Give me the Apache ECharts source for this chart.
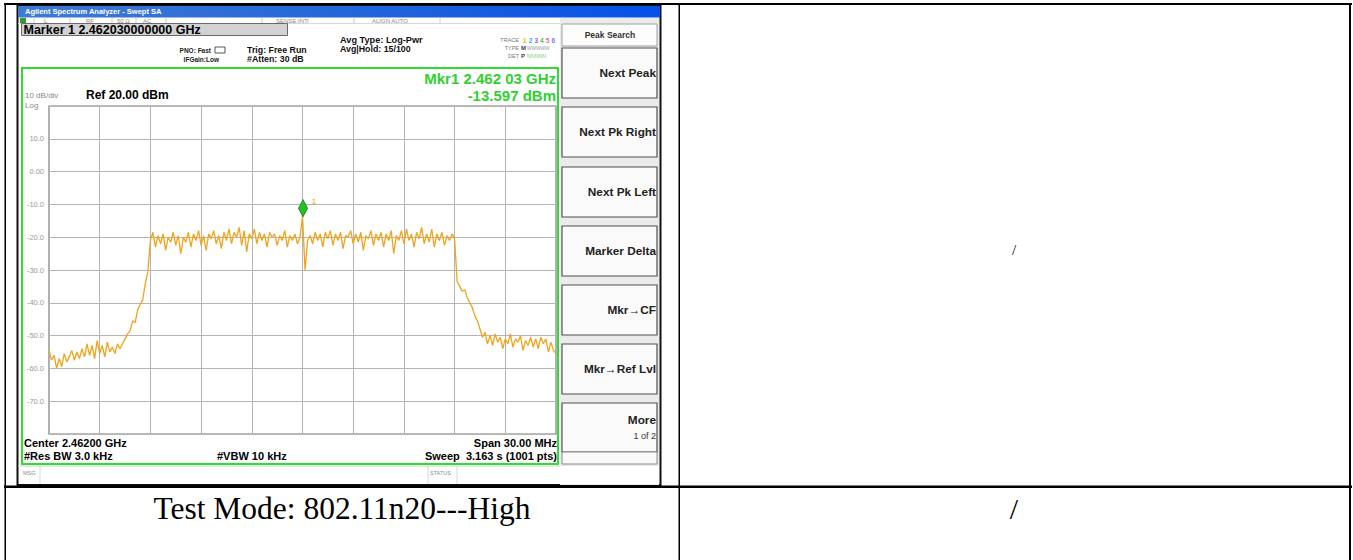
<!DOCTYPE html>
<html><head><meta charset="utf-8">
<script src="https://cdn.jsdelivr.net/npm/echarts/dist/echarts.min.js"></script>
<style>html,body{margin:0;padding:0;background:#fff;}#c{width:1353px;height:560px;}</style>
</head><body><div id="c"></div>
<script>
// ---- data ----
const centerMHz = 2462.0;
const spanMHz = 30.0;
const yTicks = [20, 10, 0, -10, -20, -30, -40, -50, -60, -70, -80];
// trace, dBm, left noise floor + rising skirt (first 40 points)
const traceLeft = [
  -54.5, -57.5, -56, -60, -57, -59.5, -55.5, -58, -56.5, -54.5,
  -57.5, -55, -57, -54, -56.5, -52.5, -56, -53, -57, -51.5,
  -55.5, -53, -56.5, -52, -55, -53.5, -55.5, -52.5, -54, -52.5,
  -51, -49.5, -48.5, -45.5, -46, -42, -40.5, -39, -34, -30.5
];
// occupied band (121 points)
const traceBand = [
  -21, -18.5, -23, -19.5, -22, -19, -24, -20, -21.5, -18.5,
  -22.5, -19.5, -25, -20, -21.5, -18.5, -23, -19, -21, -18,
  -22.5, -19.5, -24, -19, -20.5, -18, -22, -19.5, -23.5, -18.5,
  -21, -17.5, -22, -18.5, -20, -17, -22.5, -18, -24.5, -19,
  -20.5, -17.5, -22, -18.5, -21, -19, -23, -18.5, -20, -19,
  -22.5, -19.5, -21, -18, -23, -19.5, -21, -19, -22, -20,
  -13.6, -30, -21, -19.5, -22, -18.5, -21, -19, -23, -18.5,
  -20.5, -18, -22.5, -19, -21, -18.5, -23.5, -19.5, -20, -18,
  -22, -19, -21.5, -18.5, -24, -19.5, -20.5, -18, -22.5, -19,
  -21, -18.5, -23, -19, -21, -18, -25, -19.5, -21, -18,
  -22, -17.5, -21, -19, -23, -18.5, -20.5, -17, -22, -19,
  -21.5, -17.5, -23, -19, -21, -18.5, -22.5, -19.5, -21, -19,
  -20.5
];
// falling skirt + right noise floor (40 points)
const traceRight = [
  -33.5, -35, -36.5, -36, -38.5, -40, -41.5, -44, -45.5, -48,
  -50.5, -49, -52.5, -50, -53, -49.5, -52, -50.5, -54, -51,
  -52.5, -49.5, -53.5, -51, -52, -50, -54.5, -51.5, -53, -50.5,
  -53.5, -51, -54, -50.5, -52.5, -51, -55, -52, -54.5, -55.5
];
const markerFreqMHz = 2462.03;
const markerDbm = -13.597;
const softkeys = ['Next Peak', 'Next Pk Right', 'Next Pk Left', 'Marker Delta', 'Mkr\u2192CF', 'Mkr\u2192Ref Lvl'];

const trace = traceLeft.concat(traceBand, traceRight);
const n = trace.length;
const seriesData = trace.map((v, i) => [-spanMHz / 2 + i * spanMHz / (n - 1), v]);

// ---- helpers for the instrument frame / table ----
const SANS = '"Liberation Sans", Arial, sans-serif';
const SERIF = '"Liberation Serif", "Times New Roman", serif';
function T(text, x, y, font, fill, align, z) {
  return { type: 'text', silent: true, z: z || 50,
    style: { text: text, x: x, y: y, font: font, fill: fill || '#000',
      align: align || 'left', verticalAlign: 'middle',
      textAlign: align || 'left', textVerticalAlign: 'middle' } };
}
function R(x, y, w, h, fill, stroke, lw, z) {
  return { type: 'rect', silent: true, z: z || 5, shape: { x: x, y: y, width: w, height: h },
    style: { fill: fill || 'none', stroke: stroke || 'none', lineWidth: lw || 0 } };
}
function L(x1, y1, x2, y2, stroke, lw, z) {
  return { type: 'line', silent: true, z: z || 6, shape: { x1: x1, y1: y1, x2: x2, y2: y2 },
    style: { stroke: stroke, lineWidth: lw } };
}

const g = [];
// table lines
g.push(R(4, 3, 1348, 2, '#000', null, 0, 60));
g.push(R(4.5, 3, 1.5, 557, '#000', null, 0, 60));
g.push(R(678.5, 3, 1.5, 557, '#000', null, 0, 60));
g.push(R(1349, 3, 2, 557, '#000', null, 0, 60));
g.push(R(4, 485.5, 1348, 2.5, '#000', null, 0, 60));

// screenshot frame
g.push(R(17.5, 6, 643, 479, 'none', '#111', 2, 40));
// title bar
g.push({ type: 'rect', silent: true, z: 41, shape: { x: 18, y: 6, width: 642, height: 11.5 },
  style: { fill: { type: 'linear', x: 0, y: 0, x2: 1, y2: 0,
    colorStops: [{ offset: 0, color: '#3f7bd2' }, { offset: 0.6, color: '#1f62dc' }, { offset: 1, color: '#0650e8' }] } } });
g.push(T('Agilent Spectrum Analyzer - Swept SA', 25, 11.5, 'bold 7.5px ' + SANS, '#ffffff'));
// status row
g.push(R(20, 18, 6, 5.5, '#2e9e2e', null, 0, 42));
const statusSep = [34, 70, 112, 136, 166, 262, 308, 354, 440];
statusSep.forEach(x => g.push(L(x, 17.5, x, 23.5, '#c8c8c8', 1, 42)));
[['L', 44], ['RF', 86], ['50 \u03a9', 117], ['AC', 143], ['SENSE:INT', 276], ['ALIGN AUTO', 372]].forEach(p =>
  g.push(T(p[0], p[1], 20.5, '6px ' + SANS, '#8a8a8a')));
g.push(L(18, 23.5, 560, 23.5, '#d8d8d8', 1, 42));
// marker box
g.push(R(21.5, 23.5, 266, 12, '#d2d2d2', '#6a6a6a', 1, 43));
g.push(T('Marker 1 2.462030000000 GHz', 23.5, 29.5, 'bold 12.5px ' + SANS, '#000'));
g.push(T('PNO: Fast', 211, 50, 'bold 6.5px ' + SANS, '#222', 'right'));
g.push(T('IFGain:Low', 219, 59, 'bold 6.5px ' + SANS, '#222', 'right'));
g.push(R(215, 47, 10, 6, '#fff', '#555', 1, 43));
g.push(T('Trig: Free Run', 247, 50, 'bold 8.8px ' + SANS, '#111'));
g.push(T('#Atten: 30 dB', 247, 59, 'bold 8.8px ' + SANS, '#111'));
g.push(T('Avg Type: Log-Pwr', 340, 40, 'bold 9.2px ' + SANS, '#111'));
g.push(T('Avg|Hold: 15/100', 340, 49, 'bold 8.8px ' + SANS, '#111'));
g.push(T('TRACE', 519, 40, '5.5px ' + SANS, '#777', 'right'));
g.push(T('TYPE', 519, 48, '5.5px ' + SANS, '#777', 'right'));
g.push(T('DET', 519, 56, '5.5px ' + SANS, '#777', 'right'));
const traceNumColors = ['#e2c400', '#18b8d8', '#9a5ce0', '#50c050', '#e070a0', '#7a7aff'];
traceNumColors.forEach((c, i) => g.push(T(String(i + 1), 523 + i * 5.7, 40, 'bold 6.5px ' + SANS, c)));
g.push(T('M', 521, 48, 'bold 6px ' + SANS, '#444'));
g.push(T('WWWWW', 527, 48, '4.8px ' + SANS, '#9a9a9a'));
g.push(T('P', 521, 56, 'bold 6px ' + SANS, '#444'));
g.push(T('NNNNN', 527, 56, '5.3px ' + SANS, '#7acc7a'));
// green graticule frame
g.push(R(22, 68, 536, 396, 'none', '#2fdc2f', 2, 45));
g.push(T('Mkr1 2.462 03 GHz', 556, 78, 'bold 15px ' + SANS, '#2fd12f', 'right'));
g.push(T('-13.597 dBm', 556, 95, 'bold 15px ' + SANS, '#2fd12f', 'right'));
g.push(T('10 dB/div', 25, 95, '8px ' + SANS, '#8a8a8a'));
g.push(T('Log', 25, 105, '8px ' + SANS, '#8a8a8a'));
g.push(T('Ref 20.00 dBm', 86, 95, 'bold 12px ' + SANS, '#000'));
g.push(T('Center 2.46200 GHz', 24, 443, 'bold 11px ' + SANS, '#000'));
g.push(T('#Res BW 3.0 kHz', 24, 456, 'bold 11px ' + SANS, '#000'));
g.push(T('#VBW 10 kHz', 217, 456, 'bold 11px ' + SANS, '#000'));
g.push(T('Span 30.00 MHz', 557, 443, 'bold 11px ' + SANS, '#000', 'right'));
g.push(T('Sweep  3.163 s (1001 pts)', 557, 456, 'bold 11px ' + SANS, '#000', 'right'));
// msg row
g.push(L(18, 466, 560, 466, '#cfcfcf', 1, 42));
g.push(L(40, 466, 40, 484, '#d8d8d8', 1, 42));
g.push(L(428, 466, 428, 484, '#d8d8d8', 1, 42));
g.push(L(457, 466, 457, 484, '#d8d8d8', 1, 42));
g.push(T('MSG', 23, 473, '5.5px ' + SANS, '#8a8a8a'));
g.push(T('STATUS', 430, 473, '5.5px ' + SANS, '#8a8a8a'));
// softkey panel
g.push(R(560, 18, 99, 467, '#ebebeb', null, 0, 41));
g.push(R(562, 24, 95, 22, '#fdfdfd', '#a0a0a0', 1, 42));
g.push(T('Peak Search', 610, 35, 'bold 8.5px ' + SANS, '#333', 'center'));
const keyTops = [48, 107, 167, 226, 285, 344];
const keyH = 50;
softkeys.forEach((k, i) => {
  g.push(R(562, keyTops[i], 95, keyH, '#fafafa', '#505050', 1.2, 42));
  g.push(T(k, 656, keyTops[i] + keyH / 2, 'bold 11.8px ' + SANS, '#222', 'right'));
});
g.push(R(562, 403, 95, 49, '#fafafa', '#505050', 1.2, 42));
g.push(T('More', 656, 420, 'bold 11.8px ' + SANS, '#222', 'right'));
g.push(T('1 of 2', 656, 436, '9px ' + SANS, '#333', 'right'));
g.push(R(562, 452, 95, 12, '#fafafa', '#8a8a8a', 1, 42));
g.push(R(560, 466, 99, 18, '#ffffff', null, 0, 42));

// table text
g.push(T('Test Mode: 802.11n20---High', 342, 508, '31.5px ' + SERIF, '#000', 'center'));
g.push(T('/', 1014, 250, '15px ' + SERIF, '#000', 'center'));
g.push(T('/', 1014, 508, '30px ' + SERIF, '#000', 'center'));

const chart = echarts.init(document.getElementById('c'), null, { renderer: 'svg', width: 1353, height: 560 });
chart.setOption({
  animation: false,
  backgroundColor: '#ffffff',
  grid: { left: 49, top: 106, width: 507, height: 328, show: true, borderColor: '#7a7a7a', borderWidth: 1.2, backgroundColor: 'transparent' },
  xAxis: {
    type: 'value', min: -15, max: 15, interval: 3,
    axisLine: { show: false }, axisTick: { show: false }, axisLabel: { show: false },
    splitLine: { show: true, lineStyle: { color: '#b4b4b4', width: 1 } }
  },
  yAxis: {
    type: 'value', min: -80, max: 20, interval: 10,
    axisLine: { show: false }, axisTick: { show: false },
    axisLabel: { show: true, margin: 5, color: '#9a9a9a', fontSize: 7.5, fontFamily: 'Liberation Sans',
      formatter: function (v) { if (v === 20 || v === -80) return ''; return v === 0 ? '0.00' : v.toFixed(1); } },
    splitLine: { show: true, lineStyle: { color: '#b4b4b4', width: 1 } }
  },
  series: [{
    type: 'line', data: seriesData, showSymbol: false, symbol: 'none', smooth: false,
    lineStyle: { color: '#f0a41c', width: 1.3 }, z: 3,
    markPoint: {
      silent: true,
      data: [{
        coord: [markerFreqMHz - centerMHz, markerDbm], symbol: 'diamond', symbolSize: [9, 17], symbolOffset: [0, -8],
        itemStyle: { color: '#1fc41f', borderColor: '#127a12', borderWidth: 0.8 },
        label: { show: true, formatter: '1', position: 'right', offset: [-1, -7], color: '#e8a000', fontSize: 8, fontFamily: 'Liberation Sans' }
      }]
    }
  }],
  graphic: { elements: g }
});
</script></body></html>
